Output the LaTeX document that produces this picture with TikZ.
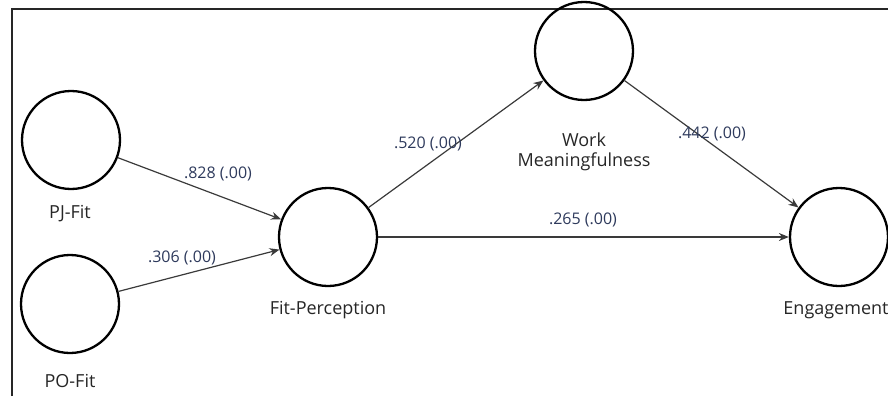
\documentclass[tikz,border=0pt]{standalone}
\usepackage{fontspec}
\setmainfont{Open Sans}
\usetikzlibrary{arrows.meta}
\definecolor{lbl}{HTML}{2E3A5C}
\definecolor{edgec}{HTML}{3A3A3A}
\begin{document}
\begin{tikzpicture}[x=1pt,y=-1pt,
  lv/.style={circle,draw=black,line width=2.3pt,minimum size=98pt,inner sep=0pt},
  lvname/.style={font=\fontsize{18}{20}\selectfont,text=black!85,align=center},
  coef/.style={font=\fontsize{16}{18}\selectfont,text=lbl},
  arr/.style={draw=edgec,line width=1.2pt,-{Stealth[length=10pt,width=8pt]}}]
\useasboundingbox (0,0) rectangle (888,396);
\draw[line width=1.6pt,black!85] (12,396) -- (12,9) -- (888,9);
\node[lv] (pj) at (71,140) {};
\node[lv] (po) at (70,304) {};
\node[lv] (fp) at (328,237) {};
\node[lv] (wm) at (584,51) {};
\node[lv] (en) at (839,237) {};
\node[lvname] (pjl) at (70,214) {PJ-Fit};
\node[lvname] (pol) at (70,381) {PO-Fit};
\node[lvname] (fpl) at (328,310) {Fit-Perception};
\node[lvname] (wml) at (584,152) {Work\\Meaningfulness};
\node[lvname] (enl) at (836,310) {Engagement};
\draw[arr] (pj) -- (fp);
\draw[arr] (po) -- (fp);
\draw[arr] (fp) -- (wm);
\draw[arr] (fp) -- (en);
\draw[arr] (wm) -- (en);
\node[coef] (c1) at (218,174) {.828 (.00)};
\node[coef] (c2) at (182,258) {.306 (.00)};
\node[coef] (c3) at (428,144) {.520 (.00)};
\node[coef] (c4) at (583,220) {.265 (.00)};
\node[coef] (c5) at (712,134) {.442 (.00)};
\end{tikzpicture}
\end{document}
